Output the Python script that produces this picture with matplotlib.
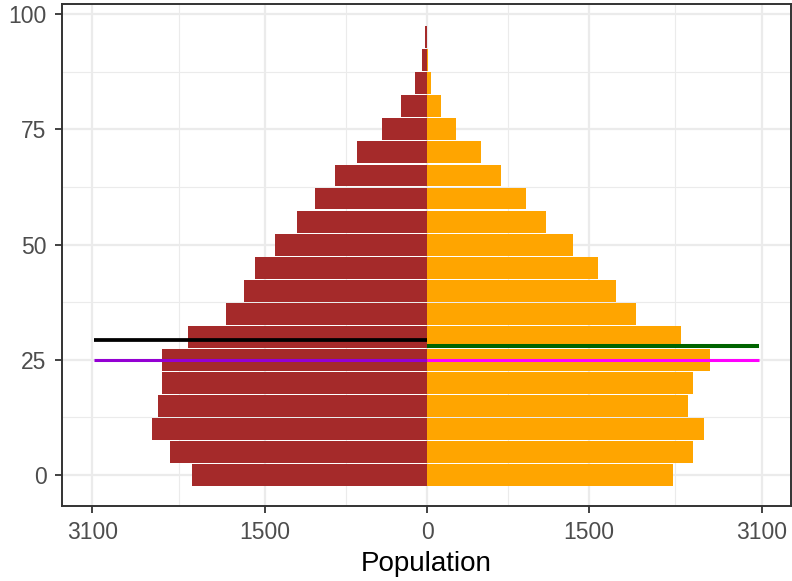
import numpy as np
import matplotlib.pyplot as plt

plt.rcParams['font.family'] = ['Liberation Sans', 'DejaVu Sans']

# age groups (centre of each 5-year band)
ages = [0, 5, 10, 15, 20, 25, 30, 35, 40, 45, 50, 55, 60, 65, 70, 75, 80, 85, 90, 95]
male = [2175, 2378, 2545, 2489, 2452, 2452, 2212, 1860, 1693, 1592,
        1407, 1203, 1036, 851, 648, 416, 241, 107, 45, 20]
female = [2277, 2462, 2563, 2415, 2462, 2619, 2351, 1934, 1749, 1582,
          1351, 1101, 916, 685, 500, 268, 130, 40, 6, 4]

# reference lines: (y, xmin, xmax, colour, width)
ref_lines = [(29.4, -3080, 0, 'black', 2.7),
             (25.0, -3080, 0, '#9400D3', 2.2),
             (28.0, 0, 3075, '#006400', 2.9),
             (25.0, 0, 3075, '#FF00FF', 2.2)]

xbreaks = [-3100, -1500, 0, 1500, 3100]
xminor = [-2300, -750, 750, 2300]
ybreaks = [0, 25, 50, 75, 100]
yminor = [12.5, 37.5, 62.5, 87.5]

fig = plt.figure(figsize=(7.92, 5.81), dpi=100)
ax = fig.add_axes([62 / 792, 75 / 581, 729 / 792, 502 / 581])

# grid like theme_bw
for v in xminor:
    ax.axvline(v, color='#EBEBEB', lw=0.8, zorder=0)
for v in yminor:
    ax.axhline(v, color='#EBEBEB', lw=0.8, zorder=0)
for v in xbreaks:
    ax.axvline(v, color='#EBEBEB', lw=1.6, zorder=0)
for v in ybreaks:
    ax.axhline(v, color='#EBEBEB', lw=1.6, zorder=0)

ax.barh(ages, [-m for m in male], height=4.75, color='#A52A2A', lw=0, zorder=2)
ax.barh(ages, female, height=4.75, color='#FFA500', lw=0, zorder=2)

for y, x0, x1, c, w in ref_lines:
    ax.plot([x0, x1], [y, y], color=c, lw=w, solid_capstyle='butt', zorder=3)

ax.set_xlim(-3380, 3370)
ax.set_ylim(-6.7, 102.2)
ax.set_xticks(xbreaks)
ax.set_xticklabels([str(abs(v)) for v in xbreaks])
ax.set_yticks(ybreaks)
ax.tick_params(colors='#333333', labelcolor='#4D4D4D', labelsize=16.5, length=5, width=1.3, pad=6)
ax.set_xlabel('Population', fontsize=20, color='black', labelpad=5)
for s in ax.spines.values():
    s.set_color('#333333')
    s.set_linewidth(1.4)

fig.savefig('out.png', dpi=100)
